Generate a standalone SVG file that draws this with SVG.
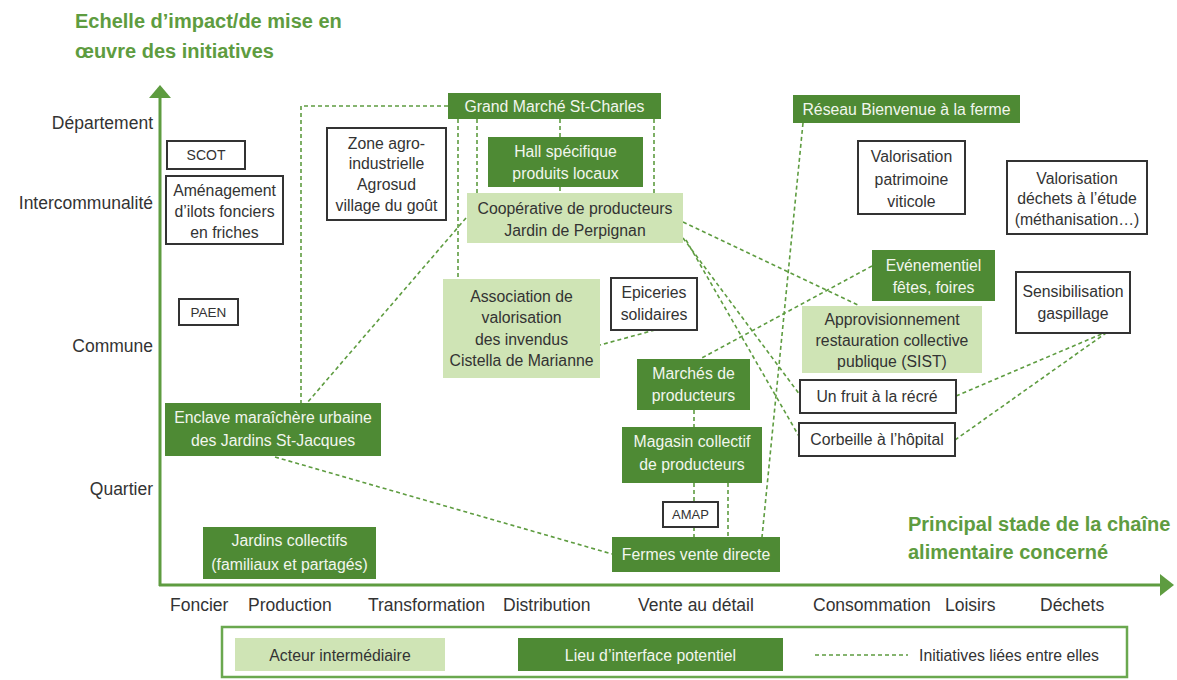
<svg xmlns="http://www.w3.org/2000/svg" width="1177" height="680" viewBox="0 0 1177 680">
<style>
text{font-family:"Liberation Sans","DejaVu Sans",sans-serif;}
.t{font-size:15.8px;text-anchor:middle;fill:#333;}
.tw{font-size:15.8px;text-anchor:middle;fill:#f2f6ee;}
.dk{fill:#4e8a34;}
.lt{fill:#cfe4b5;}
.wb{fill:#fff;stroke:#333;stroke-width:2;}
.ax{font-size:17.5px;fill:#333;}
.ttl{font-size:20px;font-weight:bold;fill:#5e9c40;}
.c{fill:none;stroke:#5e9c40;stroke-width:1.6;stroke-dasharray:4 3;}
</style>
<rect width="1177" height="680" fill="#fff"/>

<!-- titles -->
<text class="ttl" x="75" y="28">Echelle d’impact/de mise en</text>
<text class="ttl" x="75" y="58">œuvre des initiatives</text>
<text class="ttl" x="908" y="531">Principal stade de la chaîne</text>
<text class="ttl" x="908" y="559">alimentaire concerné</text>

<!-- axes -->
<g id="axes">
<line x1="160" y1="586" x2="160" y2="96" stroke="#5e9c40" stroke-width="3"/>
<polygon points="149,98 171,98 160,85" fill="#5e9c40"/>
<line x1="159" y1="585" x2="1162" y2="585" stroke="#5e9c40" stroke-width="3"/>
<polygon points="1160,574 1160,596 1174,585" fill="#5e9c40"/>
<text class="ax" x="153" y="129" text-anchor="end">Département</text>
<text class="ax" x="153" y="209" text-anchor="end">Intercommunalité</text>
<text class="ax" x="153" y="352" text-anchor="end">Commune</text>
<text class="ax" x="153" y="495" text-anchor="end">Quartier</text>
<text class="ax" x="170" y="611">Foncier</text>
<text class="ax" x="248" y="611">Production</text>
<text class="ax" x="368" y="611">Transformation</text>
<text class="ax" x="503" y="611">Distribution</text>
<text class="ax" x="638" y="611">Vente au détail</text>
<text class="ax" x="813" y="611">Consommation</text>
<text class="ax" x="945" y="611">Loisirs</text>
<text class="ax" x="1040" y="611">Déchets</text>
</g>

<!-- connectors -->
<g id="connectors">
<polyline class="c" points="448,106 301,106 301,403"/>
<line class="c" x1="458" y1="119" x2="458" y2="279"/>
<line class="c" x1="477" y1="119" x2="477" y2="193"/>
<line class="c" x1="560" y1="119" x2="560" y2="137"/>
<line class="c" x1="560" y1="187" x2="560" y2="193"/>
<line class="c" x1="654" y1="119" x2="654" y2="193"/>
<line class="c" x1="466" y1="218" x2="307" y2="403"/>
<line class="c" x1="803" y1="123" x2="762" y2="537"/>
<line class="c" x1="683" y1="222" x2="860" y2="306"/>
<line class="c" x1="683" y1="238" x2="800" y2="395"/>
<line class="c" x1="686" y1="240" x2="800" y2="438"/>
<line class="c" x1="655" y1="330" x2="600" y2="345"/>
<line class="c" x1="872" y1="266" x2="700" y2="359"/>
<line class="c" x1="694" y1="410" x2="694" y2="427"/>
<line class="c" x1="694" y1="483" x2="694" y2="502"/>
<line class="c" x1="694" y1="527" x2="694" y2="537"/>
<line class="c" x1="728" y1="483" x2="728" y2="537"/>
<line class="c" x1="275" y1="457" x2="612" y2="554"/>
<line class="c" x1="956" y1="396" x2="1104" y2="333"/>
<line class="c" x1="955" y1="440" x2="1106" y2="333"/>
</g>

<!-- nodes -->
<g id="scot"><rect class="wb" x="167" y="141" width="78" height="28"/><text class="t" x="206" y="160" style="font-size:14px">SCOT</text></g>
<g id="amenagement"><rect class="wb" x="166" y="176" width="117" height="68"/>
<text class="t" x="224.5" y="196">Aménagement</text><text class="t" x="224.5" y="217">d’ilots fonciers</text><text class="t" x="224.5" y="238">en friches</text></g>
<g id="paen"><rect class="wb" x="179" y="299" width="59" height="26"/><text class="t" x="208.5" y="317" style="font-size:13.5px">PAEN</text></g>
<g id="zone-agro"><rect class="wb" x="327" y="128" width="119" height="92"/>
<text class="t" x="386.5" y="149">Zone agro-</text><text class="t" x="386.5" y="169">industrielle</text><text class="t" x="386.5" y="190">Agrosud</text><text class="t" x="386.5" y="211">village du goût</text></g>
<g id="grand-marche"><rect class="dk" x="448" y="93" width="213" height="26"/><text class="tw" x="554.5" y="111.5">Grand Marché St-Charles</text></g>
<g id="hall"><rect class="dk" x="488" y="137" width="155" height="50"/>
<text class="tw" x="565.5" y="157">Hall spécifique</text><text class="tw" x="565.5" y="179">produits locaux</text></g>
<g id="cooperative"><rect class="lt" x="467" y="193" width="216" height="50"/>
<text class="t" x="575" y="214">Coopérative de producteurs</text><text class="t" x="575" y="236">Jardin de Perpignan</text></g>
<g id="association"><rect class="lt" x="443" y="279" width="157" height="99"/>
<text class="t" x="521.5" y="302">Association de</text><text class="t" x="521.5" y="323">valorisation</text><text class="t" x="521.5" y="345">des invendus</text><text class="t" x="521.5" y="366">Cistella de Marianne</text></g>
<g id="epiceries"><rect class="wb" x="611" y="278" width="86" height="52"/>
<text class="t" x="654" y="298">Epiceries</text><text class="t" x="654" y="320">solidaires</text></g>
<g id="reseau"><rect class="dk" x="793" y="95" width="227" height="28"/><text class="tw" x="906.5" y="114.5">Réseau Bienvenue à la ferme</text></g>
<g id="patrimoine"><rect class="wb" x="858" y="141" width="107" height="73"/>
<text class="t" x="911.5" y="162">Valorisation</text><text class="t" x="911.5" y="185">patrimoine</text><text class="t" x="911.5" y="207">viticole</text></g>
<g id="dechets"><rect class="wb" x="1007" y="161" width="140" height="73"/>
<text class="t" x="1077" y="184">Valorisation</text><text class="t" x="1077" y="204">déchets à l’étude</text><text class="t" x="1077" y="225">(méthanisation…)</text></g>
<g id="evenementiel"><rect class="dk" x="872" y="250" width="123" height="51"/>
<text class="tw" x="933.5" y="271">Evénementiel</text><text class="tw" x="933.5" y="293">fêtes, foires</text></g>
<g id="sensibilisation"><rect class="wb" x="1016" y="272" width="114" height="61"/>
<text class="t" x="1073" y="297">Sensibilisation</text><text class="t" x="1073" y="319">gaspillage</text></g>
<g id="approvisionnement"><rect class="lt" x="802" y="306" width="180" height="67"/>
<text class="t" x="892" y="325">Approvisionnement</text><text class="t" x="892" y="346">restauration collective</text><text class="t" x="892" y="367">publique (SIST)</text></g>
<g id="fruit"><rect class="wb" x="800" y="380" width="156" height="33"/><text class="t" x="877" y="402">Un fruit à la récré</text></g>
<g id="corbeille"><rect class="wb" x="799" y="423" width="156" height="33"/><text class="t" x="877" y="445">Corbeille à l’hôpital</text></g>
<g id="marches"><rect class="dk" x="637" y="359" width="113" height="51"/>
<text class="tw" x="693.5" y="379">Marchés de</text><text class="tw" x="693.5" y="401">producteurs</text></g>
<g id="magasin"><rect class="dk" x="622" y="427" width="140" height="56"/>
<text class="tw" x="692" y="447">Magasin collectif</text><text class="tw" x="692" y="470">de producteurs</text></g>
<g id="amap"><rect class="wb" x="663" y="502" width="55" height="25"/><text class="t" x="690.5" y="519" style="font-size:13px">AMAP</text></g>
<g id="fermes"><rect class="dk" x="612" y="537" width="168" height="35"/><text class="tw" x="696" y="559.5">Fermes vente directe</text></g>
<g id="enclave"><rect class="dk" x="165" y="403" width="216" height="53"/>
<text class="tw" x="273" y="423">Enclave maraîchère urbaine</text><text class="tw" x="273" y="446">des Jardins St-Jacques</text></g>
<g id="jardins"><rect class="dk" x="203" y="527" width="173" height="52"/>
<text class="tw" x="289.5" y="546">Jardins collectifs</text><text class="tw" x="289.5" y="570">(familiaux et partagés)</text></g>

<!-- legend -->
<g id="legend">
<rect x="222" y="627" width="905" height="50" fill="none" stroke="#6aa84f" stroke-width="2.5"/>
<rect class="lt" x="235" y="638" width="210" height="33"/>
<text class="t" x="340" y="660.5">Acteur intermédiaire</text>
<rect class="dk" x="518" y="638" width="265" height="33"/>
<text class="tw" x="650.5" y="660.5">Lieu d’interface potentiel</text>
<line class="c" x1="815" y1="655" x2="908" y2="655"/>
<text class="t" x="919" y="660.5" style="text-anchor:start">Initiatives liées entre elles</text>
</g>
</svg>
